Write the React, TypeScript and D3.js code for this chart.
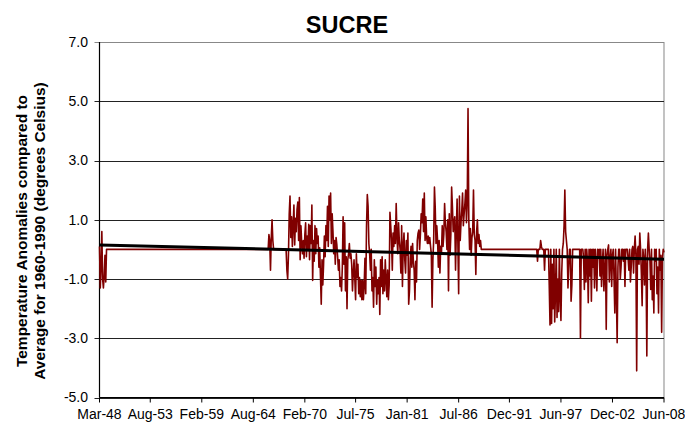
import React from 'react';
import * as d3 from 'd3';

const WIDTH = 685;
const HEIGHT = 426;
const plot = { left: 99.5, right: 664, top: 42, bottom: 397.5 };
const FONT = '"Liberation Sans", Arial, sans-serif';

// axis labels
const xTickLabels = ['Mar-48', 'Aug-53', 'Feb-59', 'Aug-64', 'Feb-70', 'Jul-75', 'Jan-81', 'Jul-86', 'Dec-91', 'Jun-97', 'Dec-02', 'Jun-08'];
const yTicks = [-5, -3, -1, 1, 3, 5, 7];

const seriesStart = '1948-03';
const seriesEnd = '2008-06';

// monthly anomalies; months not listed are drawn at 0 (flat line)
const start1948 = '1948-03';
const temps1948 = [0.1, -1.3, -0.6, 0.6, -1.0, -1.3, -0.9, -0.2, -1.1, 0.0];

const start1966 = '1966-04';
const temps1966 = [0.5, 0.3, -0.7, 0.4, 1.0, 0.3];

const start1968 = '1968-03';
const temps1968 = [
  -0.7, -1.0, -0.2, 1.2, 1.8, 0.4, 1.1, 0.1, 0.8, 1.5, 0.15, 1.05,
  0.6, 1.35, 1.6, 0.3, 1.75, -0.35, 0.8, 0.2, -0.15, 0.3, -0.3, 0.5,
  0.9, -0.25, 0.45, 0.0, 0.85, -0.35, 0.8, 0.2, 1.5, -1.05, 0.3, -0.4,
  0.8, -0.15, 0.7, 0.2, 0.45, -0.6, 0.05, -0.9, -1.85, -0.35, -1.2, -0.5,
  0.45, -0.25, 0.8, 0.3, 1.45, 0.1, 1.8, 1.0, 1.9, 0.2,
];

const start1973 = '1973-01';
const temps1973 = [
  1.2, 0.6, -0.15, 0.3, -0.5, 0.4, 0.15, -0.25, -0.7, -0.35, -1.25, -0.95,
  -1.4, -0.6, 1.1, -0.5, 0.9, -1.4, -0.25, -2.0, -0.35, -0.15, 0.2, -0.3,
  -0.15, -0.5, -1.4, -0.8, -0.35, -1.0, -1.7, -0.15, -0.95, -0.5, -1.5, -0.95,
  -1.6, -1.05, -1.7, -1.05, -1.7, -1.2, -0.3, -1.5, 0.8, 1.85, 1.45, 0.2,
  -0.15, -0.7, 0.0, -1.4, -0.95, -1.95, -0.35, -1.25, -0.6, -1.85, -1.05, -1.5,
  -0.95, -2.2, -0.35, -1.25, -0.25, -1.5, -0.7, -1.4, -0.35, -1.0, -1.6, -0.7,
  -1.7, -1.2, 1.25, 0.8, 0.3, -0.7, 0.55, 0.1, 0.8, 0.2, 1.55, 0.45,
  -0.15, 0.9, 0.3,
];

const start1980 = '1980-04';
const temps1980 = [
  0.0, -0.8, 0.8, -1.25, 0.1, 0.55, -0.35, -0.8, 0.3, -0.2, 0.55, -1.85,
  -1.4, -0.3, 0.1, -0.6, 0.2, -0.4, -0.7, -1.7, -0.4, -1.1, 0.3, 0.55,
  0.65, 0.0, 0.5, 1.2, 0.9, 1.7, 0.6, 1.9, 0.3, 1.1, 0.4, 0.2,
  0.45, 0.2, 0.4, 0.1, -0.15, -1.95, -0.35, 0.3, 2.1, 1.4, 0.2, 0.8,
  0.3, -0.6, 0.3, -0.8, 0.1, -0.1, 0.8, 0.1, 0.5, 1.55, 0.9, 0.6,
  0.0, 1.0, -1.4, 1.2, -0.2, 0.5, 2.1, 1.45, 0.6, 0.9, 1.1, -0.7,
  0.6, 1.7, 0.2, -1.5, 1.8, 0.3, 0.9, 1.3, 1.9, 0.8, 1.2, 1.55,
  2.0, 0.9, 1.6, 4.75, 1.0, 0.0, 0.7, -0.2, 0.4, 0.6, 2.0, 0.5,
  0.3, -0.85, 0.6, 1.0, 0.2, 0.5, 0.1, 0.3,
];

const start1994 = '1994-12';
const temps1994 = [
  -0.4, 0.0, 0.0, 0.0, 0.3, 0.1, 0.0, 0.0, 0.0, -0.7, 0.0, 0.0,
  0.0, 0.0, 0.0, -1.2, -2.55, 0.0, -2.5, -0.5, -2.0, 0.0, -2.45, -1.5,
  0.0, -2.3, -1.0, -2.1, 0.0, -1.6, -2.4, -0.8, 0.0, 0.2, 0.8, 2.0,
  0.6, 0.3, 0.0, -1.3, -0.6, 0.0, 0.0, -1.75, -1.2, 0.0, 0.0, 0.0,
  0.0, 0.0, 0.0, 0.0, 0.0, 0.0, 0.0, -3.0, 0.0, 0.0, 0.0, -0.3,
  -1.35, 0.0, -1.1, 0.0, -0.4, -1.8, 0.0, -0.9, 0.0, -1.75, 0.0, -0.6,
  0.0, -1.3, 0.0, -0.5, -1.4, 0.0, -0.2, 0.0,
];

const start2001 = '2001-08';
const temps2001 = [
  -0.9, 0.0, -1.25, -0.45, 0.0, -1.4, -0.8, 0.0, -2.7, -0.2, 0.0, 0.15,
  -1.1, -0.3, 0.0, -1.25, -0.2, 0.0, -1.0, -2.15, 0.0, -1.5, -3.15, -0.6,
  0.0, 0.0, -1.0, -0.6, 0.0, 0.0, -0.4, 0.0, -1.25, 0.0, 0.0, 0.0,
  -0.3, -0.7, 0.0, -1.1, -0.6, 0.0, 0.1, -0.8, 0.0, 0.45, -0.2, -4.1,
  0.0, 0.1, -0.5, 0.55, 0.0, -0.8, -1.9, 0.0, -0.3, -1.2, 0.0, -0.6,
  -3.6, 0.0, 0.55, 0.0, -0.4, -1.35, 0.0, -1.7, -0.9, -2.15, 0.0, -0.4,
  0.0, -1.5, -0.6, -2.15, 0.0, -0.7, -0.2, -2.8, -0.3, 0.0, -0.1,
];

// linear trend, value at first and last month
const trendStart = 0.15;
const trendEnd = -0.33;

const MONTHS = ['Jan', 'Feb', 'Mar', 'Apr', 'May', 'Jun', 'Jul', 'Aug', 'Sep', 'Oct', 'Nov', 'Dec'];
const base = seriesStart.split('-').map(Number);
const monthIndex = (s: string) => {
  const [y, m] = s.split('-').map(Number);
  return (y - base[0]) * 12 + (m - base[1]);
};
const labelIndex = (lab: string) => {
  const [mon, yy] = lab.split('-');
  const y = +yy < 30 ? 2000 + +yy : 1900 + +yy;
  return monthIndex(`${y}-${MONTHS.indexOf(mon) + 1}`);
};

const segments: [string, number[]][] = [
  [start1948, temps1948],
  [start1966, temps1966],
  [start1968, temps1968],
  [start1973, temps1973],
  [start1980, temps1980],
  [start1994, temps1994],
  [start2001, temps2001],
];

export default function App() {
  const last = monthIndex(seriesEnd);
  const x = d3.scaleLinear().domain([0, last]).range([plot.left, plot.right]);
  const y = d3.scaleLinear().domain([-5, 7]).range([plot.bottom, plot.top]);

  const values = new Map<number, number>();
  segments.forEach(([start, vals]) => {
    const s = monthIndex(start);
    vals.forEach((v, i) => values.set(s + i, v));
  });
  const series = d3.range(0, last + 1).map((m) => ({ m, v: values.get(m) ?? 0 }));

  const line = d3.line<{ m: number; v: number }>().x((d) => x(d.m)).y((d) => y(d.v));
  const trend = [{ m: 0, v: trendStart }, { m: last, v: trendEnd }];

  const yLabelCenter = 231;

  return (
    <svg width={WIDTH} height={HEIGHT} style={{ position: 'absolute', left: 0, top: 0, background: '#fff' }}
      fontFamily={FONT}>
      <rect x={0} y={0} width={WIDTH} height={HEIGHT} fill="#fff" />
      <text x={347} y={33} textAnchor="middle" fontSize={23.5} fontWeight="bold">SUCRE</text>

      {/* plot border (right) */}
      <line x1={plot.right} x2={plot.right} y1={plot.top} y2={plot.bottom} stroke="#9a9a9a" strokeWidth={1.2} />

      {/* gridlines + y axis */}
      {yTicks.map((t) => (
        <g key={t}>
          <line x1={plot.left - 5} x2={plot.right} y1={Math.round(y(t)) + 0.5} y2={Math.round(y(t)) + 0.5}
            stroke={t === 7 ? '#888' : '#222'} strokeWidth={1} />
          <text x={88} y={y(t)} dy="0.35em" textAnchor="end" fontSize={14}>{t.toFixed(1)}</text>
        </g>
      ))}
      <line x1={plot.left} x2={plot.left} y1={plot.top} y2={plot.bottom} stroke="#000" strokeWidth={1.2} />

      {/* x axis */}
      <line x1={plot.left} x2={plot.right} y1={plot.bottom} y2={plot.bottom} stroke="#000" strokeWidth={1.2} />
      {xTickLabels.map((lab) => {
        const xi = x(labelIndex(lab));
        return (
          <g key={lab}>
            <line x1={xi} x2={xi} y1={plot.bottom} y2={plot.bottom + 5} stroke="#000" />
            <text x={xi} y={419} textAnchor="middle" fontSize={14}>{lab}</text>
          </g>
        );
      })}

      {/* data */}
      <path d={line(series) ?? ''} fill="none" stroke="#800000" strokeWidth={1.6} strokeLinejoin="round" />
      <path d={line(trend) ?? ''} fill="none" stroke="#000" strokeWidth={3} />

      {/* y title */}
      <g transform={`translate(27,${yLabelCenter}) rotate(-90)`}>
        <text textAnchor="middle" fontSize={15.5} fontWeight="bold">Temperature Anomalies compared to</text>
      </g>
      <g transform={`translate(45,${yLabelCenter}) rotate(-90)`}>
        <text textAnchor="middle" fontSize={15.5} fontWeight="bold">Average for 1960-1990 (degrees Celsius)</text>
      </g>
    </svg>
  );
}
